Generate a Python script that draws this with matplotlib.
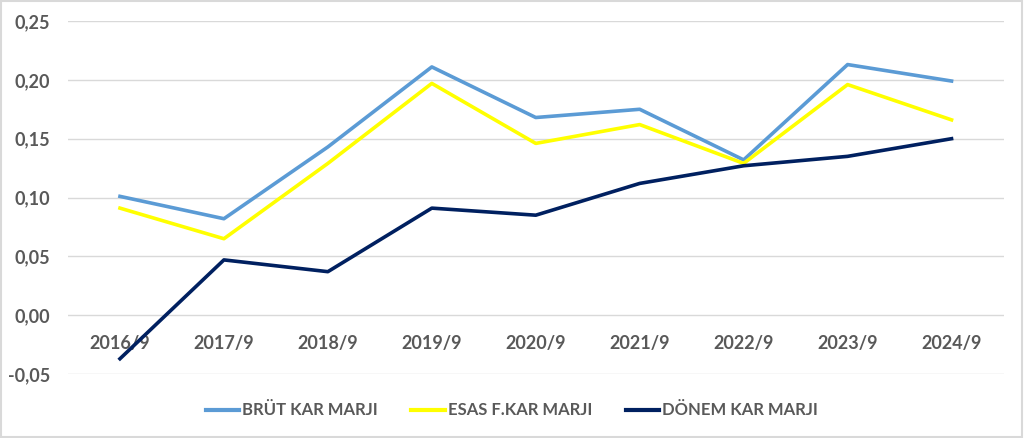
import numpy as np
import matplotlib
matplotlib.use("Agg")
import matplotlib.pyplot as plt
from matplotlib.ticker import FuncFormatter, MultipleLocator

years = ['2016/9', '2017/9', '2018/9', '2019/9', '2020/9', '2021/9', '2022/9', '2023/9', '2024/9']
brut = [0.101, 0.082, 0.143, 0.211, 0.168, 0.175, 0.132, 0.213, 0.199]
esas = [0.091, 0.065, 0.129, 0.197, 0.146, 0.162, 0.129, 0.196, 0.166]
donem = [-0.037, 0.047, 0.037, 0.091, 0.085, 0.112, 0.127, 0.135, 0.150]

names = ['BRÜT KAR MARJI', 'ESAS F.KAR MARJI', 'DÖNEM KAR MARJI']
colors = ['#5B9BD5', '#FFFF00', '#002060']
txt = '#595959'

plt.rcParams['font.family'] = ['Lato', 'DejaVu Sans']

fig = plt.figure(figsize=(10.24, 4.38), dpi=100)
ax = fig.add_axes([0.0664, 0.146, 0.9136, 0.806])

x = np.arange(len(years))
for vals, name, c in zip([brut, esas, donem], names, colors):
    ax.plot(x, vals, color=c, lw=2.6, label=name, solid_joinstyle='round', zorder=3)

ax.set_xlim(-0.5, len(years) - 0.5)
ax.set_ylim(-0.05, 0.25)
ax.yaxis.set_major_locator(MultipleLocator(0.05))
ax.yaxis.set_major_formatter(FuncFormatter(lambda v, p: f"{v:.2f}".replace('.', ',')))
ax.grid(axis='y', color='#D9D9D9', lw=1)
ax.set_axisbelow(True)

for s in ['top', 'right', 'left']:
    ax.spines[s].set_visible(False)
ax.spines['bottom'].set_position(('data', 0))
ax.spines['bottom'].set_visible(False)

ax.set_xticks(x)
ax.set_xticklabels(years)
ax.tick_params(axis='x', length=0, pad=14, labelsize=13, labelcolor=txt)
ax.tick_params(axis='y', length=0, pad=13, labelsize=13, labelcolor=txt)
for lab in ax.get_xticklabels() + ax.get_yticklabels():
    lab.set_fontweight('bold')

leg = fig.legend(loc='center', bbox_to_anchor=(0.5, 0.063), ncol=3, frameon=False,
                 fontsize=12, handlelength=2.0, columnspacing=2.0, handletextpad=0.2)
for t in leg.get_texts():
    t.set_color(txt)
    t.set_fontweight('bold')
for h in leg.get_lines():
    h.set_linewidth(3.0)

fig.patches.append(plt.Rectangle((0.001, 0.002), 0.997, 0.995, transform=fig.transFigure,
                                 fill=False, edgecolor='#D9D9D9', lw=1.5))

fig.savefig('out.png', dpi=100)
